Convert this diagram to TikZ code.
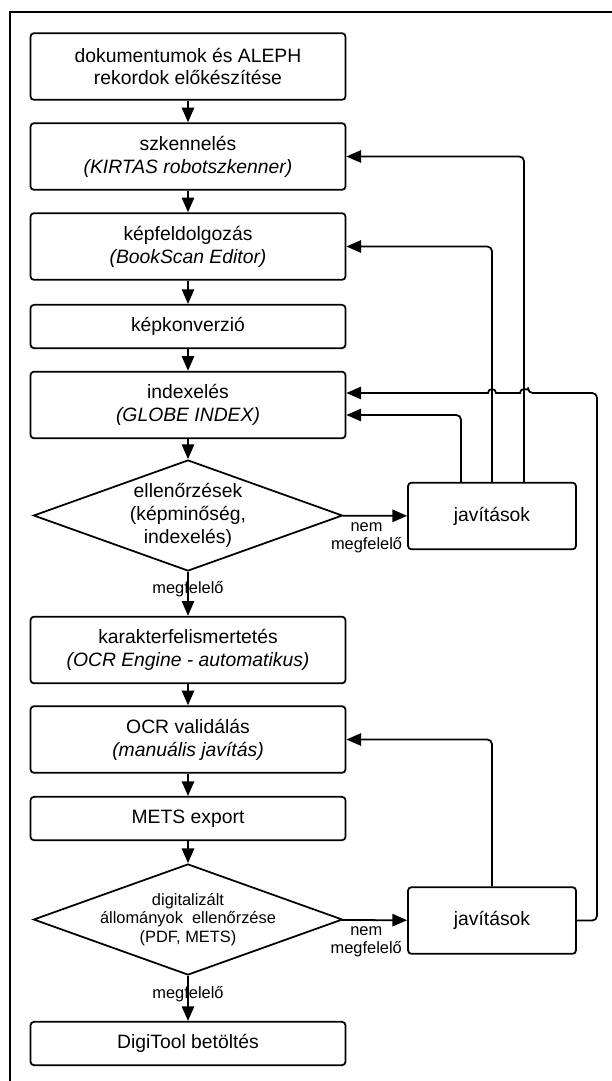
\documentclass[tikz,border=0pt]{standalone}
\usepackage{fontspec}
\setmainfont{Liberation Sans}
\usetikzlibrary{shapes.geometric,arrows.meta,positioning,calc}

\begin{document}
\begin{tikzpicture}[x=0.03cm, y=-0.03cm,
    block/.style={rectangle, draw=black, rounded corners=3pt,
                  minimum width=9.45cm, minimum height=2cm, inner sep=0pt,
                  align=center, font=\fontsize{16.5}{19.5}\selectfont, line width=1.5pt},
    shortblock/.style={block, minimum height=1.3cm},
    fixblock/.style={block, minimum width=5.04cm},
    decision/.style={diamond, draw=black, minimum width=9.27cm, minimum height=3.33cm,
                     inner sep=0pt, line width=1.5pt},
    dtext/.style={align=center, font=\fontsize{16.5}{19.5}\selectfont},
    cond/.style={align=center, font=\fontsize{14}{15.5}\selectfont, inner sep=1pt},
    arrow/.style={-{Triangle[length=12.5pt, width=10.5pt]}, line width=1.5pt},
    feedback/.style={arrow, rounded corners=4pt}
]
    \useasboundingbox (0,0) rectangle (612,1081);
    \draw[line width=1.9pt] (10,1081) -- (10,12) -- (612,12);

    \node[block] (prep) at (188,66.5) {dokumentumok és ALEPH\\rekordok előkészítése};
    \node[block] (scan) at (188,156.5) {szkennelés\\\textit{(KIRTAS robotszkenner)}};
    \node[block] (imgproc) at (188,246.5) {képfeldolgozás\\\textit{(BookScan Editor)}};
    \node[shortblock] (convert) at (188,326.5) {képkonverzió};
    \node[block] (index) at (188,405) {indexelés\\\textit{(GLOBE INDEX)}};
    \node[decision] (check1) at (188,515.5) {};
    \node[dtext] (check1txt) at (check1) {ellenőrzések\\(képminőség,\\indexelés)};
    \node[fixblock] (fix1) at (492,516) {javítások};
    \node[block] (ocrauto) at (188,650) {karakterfelismertetés\\\textit{(OCR Engine - automatikus)}};
    \node[block] (ocrval) at (188,739.5) {OCR validálás\\\textit{(manuális javítás)}};
    \node[shortblock] (mets) at (188,818.5) {METS export};
    \node[decision] (check2) at (188,919.5) {};
    \node[cond] (check2txt) at (check2) {digitalizált\\állományok\ \ ellenőrzése\\(PDF, METS)};
    \node[fixblock] (fix2) at (492,920.5) {javítások};
    \node[shortblock] (load) at (188,1043.5) {DigiTool betöltés};

    \draw[arrow] (prep) -- (scan);
    \draw[arrow] (scan) -- (imgproc);
    \draw[arrow] (imgproc) -- (convert);
    \draw[arrow] (convert) -- (index);
    \draw[arrow] (index) -- (check1);
    \draw[arrow] (check1) -- (ocrauto) node[cond, pos=0.4] (ok1) {megfelelő};
    \draw[arrow] (check1) -- (fix1) node[cond, midway, below=4pt, xshift=-0.25cm] (nok1) {nem\\megfelelő};
    \draw[arrow] (ocrauto) -- (ocrval);
    \draw[arrow] (ocrval) -- (mets);
    \draw[arrow] (mets) -- (check2);
    \draw[arrow] (check2) -- (load) node[cond, pos=0.4] (ok2) {megfelelő};
    \draw[arrow] (check2) -- (fix2) node[cond, midway, below=4pt, xshift=-0.25cm] (nok2) {nem\\megfelelő};

    % visszacsatolások
    \draw[feedback] ([xshift=-0.93cm]fix1.north) |- ([yshift=-0.3cm]index.east);
    \draw[feedback] (fix1.north) |- (imgproc.east);
    \draw[feedback] ([xshift=0.96cm]fix1.north) |- (scan.east);
    \draw[feedback] (fix2.north) |- (ocrval.east);
    \draw[feedback] (fix2.east) -| (597,393) -- (528,393) [sharp corners]
        arc[start angle=0, end angle=180, radius=0.12cm] -- (496,393)
        arc[start angle=0, end angle=180, radius=0.12cm] -- ([yshift=0.36cm]index.east);
\end{tikzpicture}
\end{document}
